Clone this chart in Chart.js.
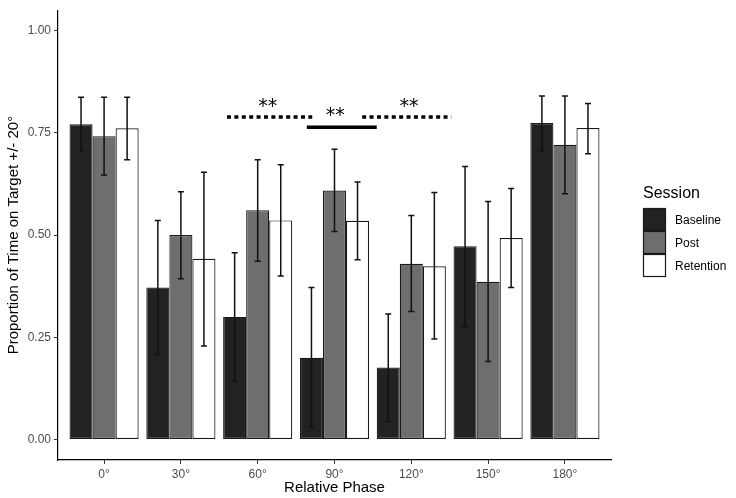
<!DOCTYPE html>
<html>
<head>
<meta charset="utf-8">
<script src="https://cdn.jsdelivr.net/npm/chart.js@4/dist/chart.umd.min.js"></script>
<style>
  html, body { margin: 0; padding: 0; background: #fff; }
  #wrap { width: 736px; height: 498px; }
</style>
</head>
<body>
<div id="wrap"><canvas id="myChart" width="736" height="498"></canvas></div>
<script>
const phases = ['0°', '30°', '60°', '90°', '120°', '150°', '180°'];
const sessions = ['Baseline', 'Post', 'Retention'];
const sessionColors = ['#222222', '#6e6e6e', '#ffffff'];

const baseline   = [0.771, 0.372, 0.300, 0.200, 0.176, 0.473, 0.774];
const baselineLo = [0.704, 0.208, 0.144, 0.030, 0.044, 0.276, 0.706];
const baselineHi = [0.837, 0.536, 0.457, 0.372, 0.307, 0.668, 0.840];

const post   = [0.742, 0.500, 0.561, 0.609, 0.430, 0.386, 0.721];
const postLo = [0.647, 0.393, 0.436, 0.509, 0.313, 0.191, 0.601];
const postHi = [0.837, 0.606, 0.684, 0.710, 0.548, 0.582, 0.840];

const retention   = [0.761, 0.442, 0.536, 0.535, 0.424, 0.493, 0.762];
const retentionLo = [0.684, 0.229, 0.400, 0.440, 0.246, 0.372, 0.699];
const retentionHi = [0.837, 0.654, 0.672, 0.630, 0.604, 0.614, 0.822];

const yTicks = [0, 0.25, 0.5, 0.75, 1];

// significance marks, in data units (x = phase index, y = proportion)
const sigLines  = [[1.60, 2.71, 0.789, true], [2.64, 3.55, 0.764, false], [3.36, 4.52, 0.789, true]];
const sigLabels = [[2.13, 0.828], [3.01, 0.807], [3.97, 0.828]];

const values = [baseline, post, retention];
const lows = [baselineLo, postLo, retentionLo];
const highs = [baselineHi, postHi, retentionHi];

Chart.defaults.font.family = '"Liberation Sans", Arial, sans-serif';

const errorBars = {
  id: 'errorBars',
  afterDatasetsDraw(chart) {
    const ctx = chart.ctx;
    const ys = chart.scales.y;
    ctx.save();
    ctx.strokeStyle = '#111';
    ctx.lineWidth = 1.5;
    chart.data.datasets.forEach((ds, i) => {
      chart.getDatasetMeta(i).data.forEach((bar, j) => {
        const x = bar.x;
        const y1 = ys.getPixelForValue(lows[i][j]);
        const y2 = ys.getPixelForValue(highs[i][j]);
        ctx.beginPath();
        ctx.moveTo(x, y1); ctx.lineTo(x, y2);
        ctx.moveTo(x - 3, y1); ctx.lineTo(x + 3, y1);
        ctx.moveTo(x - 3, y2); ctx.lineTo(x + 3, y2);
        ctx.stroke();
      });
    });
    ctx.restore();
  }
};

const sigMarks = {
  id: 'sigMarks',
  afterDatasetsDraw(chart) {
    const ctx = chart.ctx;
    const xs = chart.scales.x, ys = chart.scales.y;
    ctx.save();
    ctx.strokeStyle = '#000';
    ctx.lineWidth = 3.5;
    ctx.lineCap = 'butt';
    sigLines.forEach(([a, b, y, dotted]) => {
      ctx.setLineDash(dotted ? [4, 3.4] : []);
      ctx.beginPath();
      ctx.moveTo(xs.getPixelForValue(a), ys.getPixelForValue(y));
      ctx.lineTo(xs.getPixelForValue(b), ys.getPixelForValue(y));
      ctx.stroke();
    });
    ctx.setLineDash([]);
    ctx.fillStyle = '#000';
    ctx.font = '19px "DejaVu Sans"';
    ctx.textAlign = 'center';
    ctx.textBaseline = 'alphabetic';
    sigLabels.forEach(([x, y]) => {
      ctx.fillText('**', xs.getPixelForValue(x), ys.getPixelForValue(y) + 11);
    });
    ctx.restore();
  }
};

const sessionLegend = {
  id: 'sessionLegend',
  afterDraw(chart) {
    const ctx = chart.ctx;
    const left = 643, top = 208, size = 23;
    ctx.save();
    ctx.fillStyle = '#000';
    ctx.font = '16px "Liberation Sans", Arial, sans-serif';
    ctx.textAlign = 'left';
    ctx.textBaseline = 'middle';
    ctx.fillText('Session', left, 194);
    ctx.font = '12px "Liberation Sans", Arial, sans-serif';
    chart.data.datasets.forEach((ds, i) => {
      const y = top + i * size;
      ctx.fillStyle = ds.backgroundColor;
      ctx.fillRect(left, y, size, size);
      ctx.strokeStyle = '#1a1a1a';
      ctx.lineWidth = 1.2;
      ctx.strokeRect(left + 0.5, y + 0.5, size - 1, size - 1);
      ctx.fillStyle = '#000';
      ctx.fillText(ds.label, left + 32, y + size / 2 + 1);
    });
    ctx.restore();
  }
};

new Chart(document.getElementById('myChart'), {
  type: 'bar',
  data: {
    datasets: sessions.map((name, i) => ({
      label: name,
      data: values[i].map((v, j) => ({ x: j, y: v })),
      backgroundColor: sessionColors[i],
      borderColor: '#1a1a1a',
      borderWidth: 1.2,
      borderSkipped: false,
      categoryPercentage: 0.9,
      barPercentage: 1.0
    }))
  },
  options: {
    responsive: false,
    animation: false,
    layout: { padding: { top: 5, right: 125, left: 0, bottom: 0 } },
    plugins: { legend: { display: false }, tooltip: { enabled: false } },
    scales: {
      x: {
        type: 'linear',
        min: -0.6, max: 6.6,
        offset: false,
        afterBuildTicks: s => { s.ticks = phases.map((p, i) => ({ value: i })); },
        afterFit: s => { s.height = 38; },
        ticks: {
          callback: v => phases[v],
          color: '#4d4d4d', font: { size: 12 }, padding: 3, maxRotation: 0
        },
        grid: { offset: false, drawOnChartArea: false, drawTicks: true, tickLength: 4, color: '#333' },
        border: { display: true, color: '#000', width: 1.2 },
        title: { display: true, text: 'Relative Phase', color: '#000', font: { size: 15 }, padding: { top: 0, bottom: 1 } }
      },
      y: {
        min: -0.05, max: 1.05,
        afterBuildTicks: s => { s.ticks = yTicks.map(v => ({ value: v })); },
        afterFit: s => { s.width = 58; },
        ticks: { callback: v => v.toFixed(2), color: '#4d4d4d', font: { size: 12 }, padding: 3 },
        grid: { drawOnChartArea: false, drawTicks: true, tickLength: 4, color: '#333' },
        border: { display: true, color: '#000', width: 1.2 },
        title: { display: true, text: 'Proportion of Time on Target +/- 20°', color: '#000', font: { size: 15 }, padding: { top: 4.5, bottom: 0 } }
      }
    }
  },
  plugins: [errorBars, sigMarks, sessionLegend]
});
</script>
</body>
</html>
